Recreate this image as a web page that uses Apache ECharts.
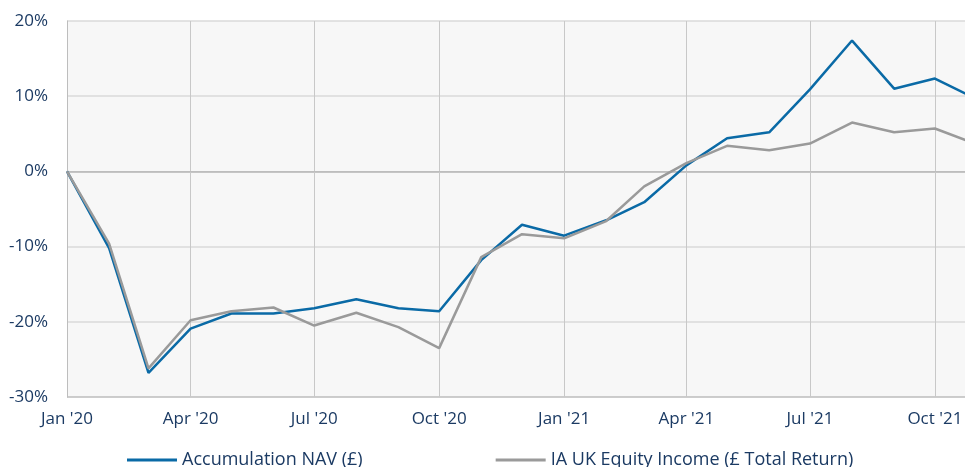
<!DOCTYPE html>
<html>
<head>
<meta charset="utf-8">
<script src="https://cdn.jsdelivr.net/npm/echarts@6/dist/echarts.min.js"></script>
<style>
html,body{margin:0;padding:0;background:#fff;}
#chart{width:965px;height:467px;}
</style>
</head>
<body>
<div id="chart"></div>
<script>
var dates = ['2020-01-01','2020-02-01','2020-03-01','2020-04-01','2020-05-01','2020-06-01','2020-07-01','2020-08-01','2020-09-01','2020-10-01','2020-11-01','2020-12-01',
             '2021-01-01','2021-02-01','2021-03-01','2021-04-01','2021-05-01','2021-06-01','2021-07-01','2021-08-01','2021-09-01','2021-10-01','2021-11-01'];
var navValues = [0, -10.2, -26.8, -20.9, -18.9, -18.9, -18.2, -17.0, -18.2, -18.6, -11.8, -7.1,
                 -8.55, -6.5, -4.1, 0.8, 4.4, 5.2, 10.9, 17.4, 11.0, 12.35, 9.6];
var sectorValues = [0, -9.6, -26.2, -19.8, -18.6, -18.1, -20.5, -18.8, -20.7, -23.5, -11.4, -8.35,
                    -8.9, -6.6, -2.0, 1.1, 3.4, 2.8, 3.7, 6.5, 5.2, 5.7, 3.6];
var seriesNames = ['Accumulation NAV (£)', 'IA UK Equity Income (£ Total Return)'];
var monthNames = ['Jan','Feb','Mar','Apr','May','Jun','Jul','Aug','Sep','Oct','Nov','Dec'];
var axisStart = '2020-01-01';
var axisEnd = '2021-11-01';

function pairs(vals){ return dates.map(function(d,i){ return [d, vals[i]]; }); }

var textColor = '#1b3a63';
var font = 'Open Sans';
var chart = echarts.init(document.getElementById('chart'), null, {renderer:'canvas'});
chart.setOption({
  animation: false,
  backgroundColor: '#ffffff',
  grid: {left: 67, right: -12, top: 21, bottom: 70, show: true, backgroundColor: '#f7f7f7', borderWidth: 0,
         containLabel: false, outerBoundsMode: 'none'},
  legend: {
    left: 127, top: 451, padding: 0,
    itemWidth: 50, itemHeight: 3, itemGap: 133,
    icon: 'rect',
    textStyle: {color: textColor, fontSize: 18, fontFamily: font, padding: [0,0,0,0]},
    data: seriesNames
  },
  xAxis: {
    type: 'time',
    min: axisStart, max: axisEnd,
    splitNumber: 7,
    axisLine: {show: true, lineStyle: {color: '#bdbdbd', width: 1}},
    axisTick: {show: false},
    axisLabel: {
      color: textColor, fontSize: 17, fontFamily: font, margin: 14,
      hideOverlap: false,
      formatter: function(v){ var d = new Date(v); return monthNames[d.getMonth()] + " '" + String(d.getFullYear()).slice(2); }
    },
    splitLine: {show: true, lineStyle: {color: '#c8c8c8', width: 1}},
    minorTick: {show: false}
  },
  yAxis: {
    type: 'value', min: -30, max: 20, interval: 10,
    axisLine: {show: true, lineStyle: {color: '#bdbdbd', width: 1}},
    axisTick: {show: false},
    axisLabel: {color: textColor, fontSize: 17, fontFamily: font, margin: 19, formatter: '{value}%'},
    splitLine: {show: true, lineStyle: {color: ['#bdbdbd','#dadada','#dadada','#b5b5b5','#dadada','#dadada'], width: 1.5}}
  },
  series: [
    {name: seriesNames[0], type: 'line', data: pairs(navValues), showSymbol: false, symbol: 'none',
     lineStyle: {color: '#0a6aa6', width: 2.5}, itemStyle: {color: '#0a6aa6'}},
    {name: seriesNames[1], type: 'line', data: pairs(sectorValues), showSymbol: false, symbol: 'none',
     lineStyle: {color: '#9a9a9a', width: 2.5}, itemStyle: {color: '#9a9a9a'}}
  ]
});
</script>
</body>
</html>
